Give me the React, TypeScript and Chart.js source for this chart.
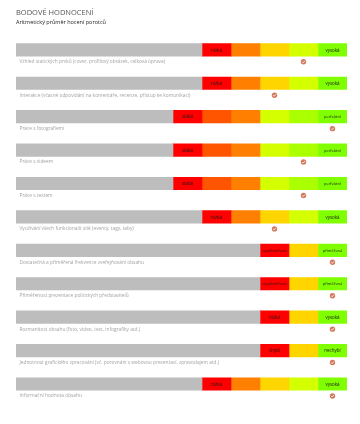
import React, { useEffect, useRef } from "react";
import { Chart, registerables } from "chart.js";

Chart.register(...registerables);

const criteria = [
  "Vzhled statických prvků (cover, profilový obrázek, celková úprava)",
  "Interakce (včasné odpovídání na komentáře, recenze, přístup ke komunikaci)",
  "Práce s fotografiemi",
  "Práce s videem",
  "Práce s textem",
  "Využívání všech funkcionalit sítě (eventy, tagy, taby)",
  "Dostatečná a přiměřená frekvence zveřejňování obsahu",
  "Přiměřenost prezentace politických představitelů",
  "Rozmanitost obsahu (foto, video, text, infografiky atd.)",
  "Jednotnost grafického zpracování (vč. porovnání s webovou prezentací, zpravodajem atd.)",
  "Informační hodnota obsahu",
];
const segmentCounts = [5, 5, 6, 6, 6, 5, 3, 3, 3, 3, 5];
const scores = [4, 3, 6, 5, 5, 3, 3, 3, 3, 3, 5];
const lowLabels = ["nízká", "nízká", "slabá", "slabá", "slabá", "nízká", "nepřiměřená", "nepřiměřená", "nízká", "chybí", "nízká"];
const highLabels = ["vysoká", "vysoká", "perfektní", "perfektní", "perfektní", "vysoká", "přiměřená", "přiměřená", "vysoká", "nechybí", "vysoká"];

const TOTAL = 331 / 29;
const palettes: Record<number, string[]> = {
  3: ["#ff0000", "#ffd500", "#80ff00"],
  5: ["#ff0000", "#ff8000", "#ffd500", "#d4ff00", "#80ff00"],
  6: ["#ff0000", "#ff5500", "#ff8000", "#d4ff00", "#aaff00", "#80ff00"],
};

export default function App() {
  const ref = useRef<HTMLCanvasElement>(null);
  useEffect(() => {
    document.body.style.margin = "0";
    const datasets: any[] = [
      {
        label: "rest",
        data: segmentCounts.map((n) => TOTAL - n),
        backgroundColor: "#bdbdbd",
        barThickness: 12.5,
        stack: "s",
      },
    ];
    for (let j = 0; j < 6; j++) {
      datasets.push({
        label: "seg" + j,
        data: segmentCounts.map((n) => (j < n ? 1 : 0)),
        backgroundColor: segmentCounts.map((n) => (j < n ? palettes[n][j] : "transparent")),
        barThickness: 12.5,
        stack: "s",
      });
    }

    const overlay = {
      id: "overlay",
      afterDatasetsDraw(chart: any) {
        const ctx = chart.ctx;
        const xs = chart.scales.x;
        const ys = chart.scales.y;
        const area = chart.chartArea;
        ctx.save();
        // segment labels
        ctx.font = "normal 4.5px 'Open Sans', sans-serif";
        ctx.textAlign = "center";
        ctx.textBaseline = "middle";
        ctx.fillStyle = "#1a1a1a";
        segmentCounts.forEach((n, i) => {
          const first = chart.getDatasetMeta(1).data[i];
          const last = chart.getDatasetMeta(n).data[i];
          const lowSize = lowLabels[i].length > 8 ? 4 : 4.5;
          const highSize = highLabels[i].length > 8 ? 4 : 4.5;
          ctx.font = `normal ${lowSize}px 'Open Sans', sans-serif`;
          ctx.fillText(lowLabels[i], (first.x + first.base) / 2, first.y + 0.5);
          ctx.font = `normal ${highSize}px 'Open Sans', sans-serif`;
          ctx.fillText(highLabels[i], (last.x + last.base) / 2, last.y + 0.5);
        });
        // row labels and markers
        criteria.forEach((c, i) => {
          const y = ys.getPixelForValue(i) + 12;
          ctx.font = "normal 4.8px 'Open Sans', sans-serif";
          ctx.textAlign = "left";
          ctx.fillStyle = "#a3a3a3";
          ctx.fillText(c, area.left + 3.5, y);
          const mx = xs.getPixelForValue(TOTAL - segmentCounts[i] + scores[i] - 0.5);
          ctx.beginPath();
          ctx.arc(mx, y, 2.7, 0, Math.PI * 2);
          ctx.fillStyle = "#d27a5e";
          ctx.fill();
          ctx.beginPath();
          ctx.moveTo(mx - 1.3, y);
          ctx.lineTo(mx - 0.3, y + 1);
          ctx.lineTo(mx + 1.4, y - 1);
          ctx.strokeStyle = "#ffffff";
          ctx.lineWidth = 0.8;
          ctx.stroke();
        });
        ctx.restore();
      },
    };

    const chart = new Chart(ref.current!, {
      type: "bar",
      data: { labels: criteria, datasets },
      options: {
        indexAxis: "y",
        animation: false,
        responsive: false,
        maintainAspectRatio: false,
        layout: { padding: { left: 16, right: 13, top: 0, bottom: 23.3 } },
        scales: {
          x: { display: false, stacked: true, min: 0, max: TOTAL },
          y: { display: false, stacked: true },
        },
        plugins: {
          legend: { display: false },
          tooltip: { enabled: false },
          title: {
            display: true,
            text: "BODOVÉ HODNOCENÍ",
            align: "start",
            color: "#555",
            font: { family: "'Open Sans'", size: 7.5, weight: "normal", lineHeight: 1.2 },
            padding: { top: 8.5, bottom: 2 },
          },
          subtitle: {
            display: true,
            text: "Aritmetický průměr hocení porotců",
            align: "start",
            color: "#222",
            font: { family: "'Open Sans'", size: 5.5, weight: "normal", lineHeight: 1.2 },
            padding: { top: 0, bottom: 7 },
          },
        },
      },
      plugins: [overlay],
    });
    return () => chart.destroy();
  }, []);
  return <canvas ref={ref} width={360} height={424} style={{ display: "block" }} />;
}
